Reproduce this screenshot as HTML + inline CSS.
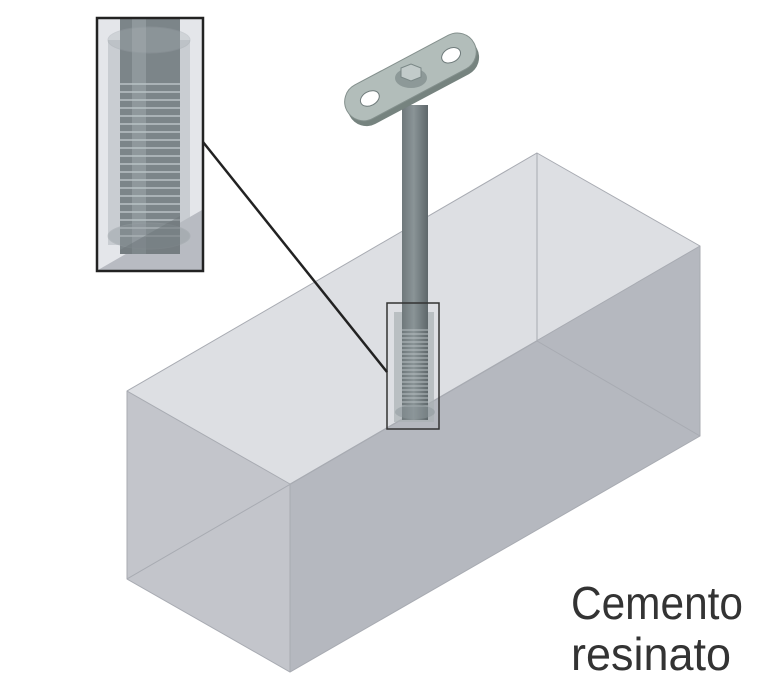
<!DOCTYPE html>
<html><head><meta charset="utf-8"><style>
html,body{margin:0;padding:0;background:#fff;}
svg{display:block;}
</style></head><body>
<svg width="768" height="692" viewBox="0 0 768 692" xmlns="http://www.w3.org/2000/svg">
<defs>
<linearGradient id="rod" x1="0" x2="1" y1="0" y2="0">
<stop offset="0" stop-color="#6f787b"/><stop offset="0.45" stop-color="#8a9497"/><stop offset="1" stop-color="#5e676a"/>
</linearGradient>
<clipPath id="inset"><rect x="98" y="19" width="104" height="251"/></clipPath>
<clipPath id="small"><rect x="388" y="304" width="50" height="124"/></clipPath>
</defs>
<polygon points="537,153 700,246 290,484 127,391" fill="#dddfe3"/>
<polygon points="127,391 290,484 290,672 127,579" fill="#c3c5cb"/>
<polygon points="290,484 700,246 700,436 290,672" fill="#b5b8bf"/>
<g stroke="#a8abb2" stroke-width="1" fill="none">
<polygon points="537,153 700,246 700,436 290,672 127,579 127,391"/>
<line x1="127" y1="391" x2="290" y2="484"/>
<line x1="290" y1="484" x2="700" y2="246"/>
<line x1="290" y1="484" x2="290" y2="672"/>
<line x1="537" y1="153" x2="537" y2="341"/>
<line x1="537" y1="341" x2="700" y2="436"/>
<line x1="537" y1="341" x2="127" y2="579"/>
</g>
<rect x="402" y="105" width="26" height="315" fill="url(#rod)"/>
<g clip-path="url(#small)">
<rect x="394" y="312" width="40" height="110" fill="#a9b0b4" opacity="0.7"/>
<rect x="402" y="312" width="26" height="108" fill="url(#rod)"/>
<g stroke="#b8c0c3" stroke-width="1">
<line x1="402" y1="330" x2="428" y2="330"/><line x1="402" y1="334" x2="428" y2="334"/><line x1="402" y1="338" x2="428" y2="338"/><line x1="402" y1="342" x2="428" y2="342"/><line x1="402" y1="346" x2="428" y2="346"/><line x1="402" y1="350" x2="428" y2="350"/><line x1="402" y1="354" x2="428" y2="354"/><line x1="402" y1="358" x2="428" y2="358"/><line x1="402" y1="362" x2="428" y2="362"/><line x1="402" y1="366" x2="428" y2="366"/><line x1="402" y1="370" x2="428" y2="370"/><line x1="402" y1="374" x2="428" y2="374"/><line x1="402" y1="378" x2="428" y2="378"/><line x1="402" y1="382" x2="428" y2="382"/><line x1="402" y1="386" x2="428" y2="386"/><line x1="402" y1="390" x2="428" y2="390"/><line x1="402" y1="394" x2="428" y2="394"/><line x1="402" y1="398" x2="428" y2="398"/><line x1="402" y1="402" x2="428" y2="402"/><line x1="402" y1="406" x2="428" y2="406"/>
</g>
<ellipse cx="415" cy="412" rx="20" ry="7" fill="#8e979b" opacity="0.5"/>
</g>
<rect x="387" y="303" width="52" height="126" fill="none" stroke="#333" stroke-width="1.5"/>
<!-- plate -->
<g transform="translate(410,76) rotate(-28)">
<rect x="-72" y="-18" width="144" height="38" rx="19" fill="#76837f" transform="translate(0,6)"/>
<rect x="-72" y="-18" width="144" height="38" rx="19" fill="#b2bdba" stroke="#84908d"/>
<ellipse cx="-46" cy="1" rx="10" ry="7" fill="#fff" stroke="#6f7b7b"/>
<ellipse cx="46" cy="1" rx="10" ry="7" fill="#fff" stroke="#6f7b7b"/>
</g>
<ellipse cx="411" cy="78" rx="16" ry="10" fill="#8d9998"/>
<polygon points="401,68 411,64 421,68 421,77 411,81 401,77" fill="#c2cbca" stroke="#7a8786"/>
<line x1="203" y1="142" x2="387" y2="372" stroke="#222" stroke-width="2.5"/>
<g clip-path="url(#inset)">
<rect x="98" y="19" width="104" height="251" fill="#e4e6ea"/>
<polygon points="98,270 202,210 202,270" fill="#b8bbc2"/>
<rect x="108" y="40" width="82" height="205" fill="#b7bdc2" opacity="0.6"/>
<rect x="120" y="19" width="60" height="235" fill="#7c8589"/>
<rect x="132" y="19" width="14" height="235" fill="#8f989c"/>
<g stroke="#b9c2c5" stroke-width="1.5">
<line x1="120" y1="84" x2="180" y2="84"/><line x1="120" y1="92" x2="180" y2="92"/><line x1="120" y1="100" x2="180" y2="100"/><line x1="120" y1="108" x2="180" y2="108"/><line x1="120" y1="116" x2="180" y2="116"/><line x1="120" y1="124" x2="180" y2="124"/><line x1="120" y1="132" x2="180" y2="132"/><line x1="120" y1="140" x2="180" y2="140"/><line x1="120" y1="148" x2="180" y2="148"/><line x1="120" y1="156" x2="180" y2="156"/><line x1="120" y1="164" x2="180" y2="164"/><line x1="120" y1="172" x2="180" y2="172"/><line x1="120" y1="180" x2="180" y2="180"/><line x1="120" y1="188" x2="180" y2="188"/><line x1="120" y1="196" x2="180" y2="196"/><line x1="120" y1="204" x2="180" y2="204"/><line x1="120" y1="212" x2="180" y2="212"/><line x1="120" y1="220" x2="180" y2="220"/><line x1="120" y1="228" x2="180" y2="228"/><line x1="120" y1="236" x2="180" y2="236"/>
</g>
<ellipse cx="149" cy="40" rx="41" ry="13" fill="#a9b0b5" opacity="0.35" stroke="#9aa1a6"/>
<ellipse cx="149" cy="236" rx="41" ry="13" fill="#8f979c" opacity="0.4" stroke="#9aa1a6"/>
<polygon points="120,250 180,216 180,254 120,254" fill="#6d767a" opacity="0.5"/>
</g>
<rect x="97" y="18" width="106" height="253" fill="none" stroke="#222" stroke-width="2.5"/>
<g font-family="'Liberation Sans', sans-serif" font-size="46" fill="#333" transform="translate(571,0) scale(0.86,1)">
<text x="0" y="619" textLength="200" lengthAdjust="spacingAndGlyphs">Cemento</text>
<text x="0" y="670" textLength="186" lengthAdjust="spacingAndGlyphs">resinato</text>
</g>
</svg>
</body></html>
